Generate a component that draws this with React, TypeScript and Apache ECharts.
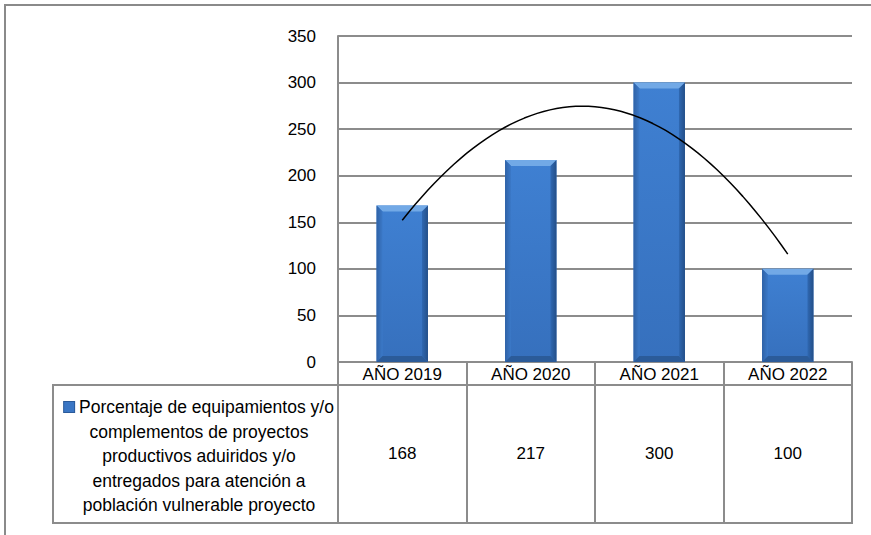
import React, { useEffect, useRef } from "react";
import * as echarts from "echarts";

const categories = ["AÑO 2019", "AÑO 2020", "AÑO 2021", "AÑO 2022"];
const values = [168, 217, 300, 100];
const seriesName =
  "Porcentaje de equipamientos y/o\ncomplementos de proyectos\nproductivos aduiridos y/o\nentregados para atención a\npoblación vulnerable proyecto";
const yMin = 0;
const yMax = 350;
const yInterval = 50;

const FONT = "'Liberation Sans', Arial, sans-serif";
const GRID_GRAY = "#8c8c8c";
const FS = 17;

// order-2 polynomial least squares (Excel "polynomial" trendline) on x = 1..n
function polyFit2(ys: number[]) {
  const xs = ys.map((_, i) => i + 1);
  const s = [0, 0, 0, 0, 0];
  const t = [0, 0, 0];
  xs.forEach((x, i) => {
    for (let k = 0; k < 5; k++) s[k] += Math.pow(x, k);
    for (let k = 0; k < 3; k++) t[k] += Math.pow(x, k) * ys[i];
  });
  const M = [
    [s[0], s[1], s[2], t[0]],
    [s[1], s[2], s[3], t[1]],
    [s[2], s[3], s[4], t[2]],
  ];
  for (let c = 0; c < 3; c++) {
    for (let r = c + 1; r < 3; r++) {
      const f = M[r][c] / M[c][c];
      for (let k = c; k < 4; k++) M[r][k] -= f * M[c][k];
    }
  }
  const coef = [0, 0, 0];
  for (let r = 2; r >= 0; r--) {
    let v = M[r][3];
    for (let k = r + 1; k < 3; k++) v -= M[r][k] * coef[k];
    coef[r] = v / M[r][r];
  }
  return (x: number) => coef[0] + coef[1] * x + coef[2] * x * x;
}

export default function App() {
  const ref = useRef<HTMLDivElement>(null);
  useEffect(() => {
    if (!ref.current) return;
    const chart = echarts.init(ref.current, undefined, { renderer: "svg" });
    const f = polyFit2(values);
    const trend: number[][] = [];
    for (let k = 0; k <= 60; k++) {
      const x = 1 + (k * (values.length - 1)) / 60;
      trend.push([x, f(x)]);
    }

    const option: any = {
      animation: false,
      backgroundColor: "#ffffff",
      textStyle: { fontFamily: FONT },
      grid: { left: 338, right: 19, top: 36, bottom: 173, containLabel: false },
      xAxis: [
        {
          type: "category",
          data: categories,
          position: "bottom",
          axisLine: { show: true, lineStyle: { color: GRID_GRAY, width: 2 } },
          axisTick: { show: true, interval: 0, length: 23, lineStyle: { color: GRID_GRAY, width: 2 } },
          axisLabel: { fontSize: FS, lineHeight: FS, color: "#000", margin: 4, fontFamily: FONT },
          splitLine: { show: false },
        },
        {
          type: "category",
          data: categories,
          position: "bottom",
          offset: 23,
          axisLine: { show: true, lineStyle: { color: GRID_GRAY, width: 2 } },
          axisTick: { show: true, interval: 0, length: 138, lineStyle: { color: GRID_GRAY, width: 2 } },
          axisLabel: {
            fontSize: FS,
            lineHeight: FS,
            color: "#000",
            margin: 60,
            fontFamily: FONT,
            formatter: (_: string, i: number) => String(values[i]),
          },
        },
        { type: "value", min: 0.5, max: values.length + 0.5, show: false },
      ],
      yAxis: {
        type: "value",
        min: yMin,
        max: yMax,
        interval: yInterval,
        axisLine: { show: true, lineStyle: { color: GRID_GRAY, width: 2 } },
        axisTick: { show: false },
        axisLabel: { fontSize: FS, color: "#000", margin: 22, fontFamily: FONT },
        splitLine: { show: true, lineStyle: { color: GRID_GRAY, width: 2 } },
      },
      series: [
        {
          type: "custom",
          name: seriesName,
          xAxisIndex: 0,
          data: values.map((v, i) => [i, v]),
          encode: { x: 0, y: 1 },
          renderItem: (params: any, api: any) => {
            const idx = api.value(0);
            const val = api.value(1);
            const top = api.coord([idx, val]);
            const base = api.coord([idx, 0]);
            const bw = api.size([1, 0])[0] * 0.4;
            const x0 = top[0] - bw / 2;
            const x1 = x0 + bw;
            const y0 = top[1];
            const y1 = base[1];
            const b = 6;
            return {
              type: "group",
              children: [
                {
                  type: "rect",
                  shape: { x: x0, y: y0, width: bw, height: y1 - y0 },
                  style: {
                    fill: new echarts.graphic.LinearGradient(0, 0, 0, 1, [
                      { offset: 0, color: "#3f80d2" },
                      { offset: 1, color: "#3670bd" },
                    ]),
                  },
                },
                {
                  type: "polygon",
                  shape: { points: [[x0, y0], [x1, y0], [x1 - b, y0 + b], [x0 + b, y0 + b]] },
                  style: { fill: "#72a9e6" },
                },
                {
                  type: "polygon",
                  shape: { points: [[x0, y0], [x0 + b, y0 + b], [x0 + b, y1 - b], [x0, y1]] },
                  style: {
                    fill: new echarts.graphic.LinearGradient(0, 0, 1, 0, [
                      { offset: 0, color: "#2f62a6" },
                      { offset: 1, color: "#3b79c8" },
                    ]),
                  },
                },
                {
                  type: "polygon",
                  shape: { points: [[x1, y0], [x1, y1], [x1 - b, y1 - b], [x1 - b, y0 + b]] },
                  style: {
                    fill: new echarts.graphic.LinearGradient(0, 0, 1, 0, [
                      { offset: 0, color: "#2f68b2" },
                      { offset: 1, color: "#244f88" },
                    ]),
                  },
                },
                {
                  type: "polygon",
                  shape: { points: [[x0, y1], [x0 + b, y1 - b], [x1 - b, y1 - b], [x1, y1]] },
                  style: { fill: "#2b5b99" },
                },
              ],
            };
          },
          z: 2,
        },
        {
          type: "line",
          name: "trend",
          xAxisIndex: 2,
          data: trend,
          showSymbol: false,
          symbol: "none",
          smooth: false,
          lineStyle: { color: "#000", width: 1.5 },
          z: 5,
        },
      ],
      graphic: [
        {
          type: "rect",
          shape: { x: 5, y: 5, width: 1000, height: 1000 },
          style: { fill: "none", stroke: "#8a8a8a", lineWidth: 2 },
          silent: true,
        },
        {
          type: "rect",
          shape: { x: 53, y: 385, width: 799, height: 138 },
          style: { fill: "none", stroke: GRID_GRAY, lineWidth: 2 },
          silent: true,
        },
        {
          type: "text",
          x: 199,
          y: 456,
          style: {
            text: "{icon|}{sp| }" + seriesName,
            fontFamily: FONT,
            fontSize: 17.5,
            lineHeight: 24.5,
            fill: "#000",
            align: "center",
            verticalAlign: "middle",
            rich: {
              icon: {
                width: 10,
                height: 10,
                backgroundColor: "#3a76c4",
                borderColor: "#2a5a9a",
                borderWidth: 1,
              },
              sp: { fontSize: 17.5, fontFamily: FONT },
            },
          },
          silent: true,
        },
      ],
    };
    chart.setOption(option);
    return () => chart.dispose();
  }, []);
  return (
    <div
      ref={ref}
      style={{ position: "fixed", left: 0, top: 0, width: 871, height: 535 }}
    />
  );
}
